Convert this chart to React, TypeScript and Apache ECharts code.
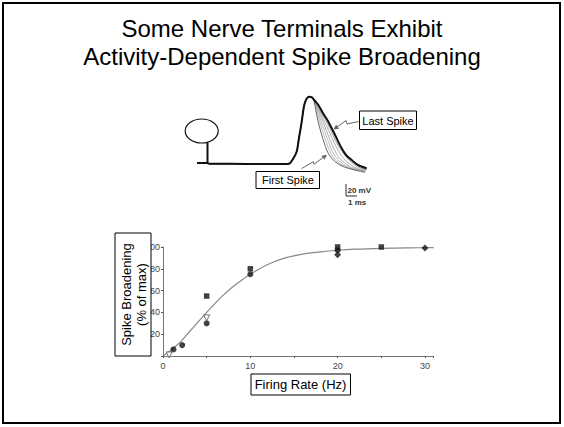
import React, { useEffect, useRef } from "react";
import * as echarts from "echarts";

const FONT = "Liberation Sans, Arial, Helvetica, sans-serif";

// Title
const titleLines = ["Some Nerve Terminals Exhibit", "Activity-Dependent Spike Broadening"];

// ---- Bottom plot: spike broadening vs firing rate ----
const xTickLabels = [0, 10, 20, 30];
const yTickLabels = [20, 40, 60, 80, 100];

// fitted curve (Hz, % of max)
const curveX = [0, 1, 2, 3, 4, 5, 6, 7, 8, 9, 10, 12, 14, 16, 18, 20, 22, 25, 28, 31];
const curveY = [0, 6, 13, 22, 31, 40, 48.5, 56.5, 63.5, 69.5, 75, 84, 90, 93.5, 95.5, 97, 98, 98.8, 99.2, 99.4];

// data points
const circleX = [1.2, 2.2, 5, 10, 20];
const circleY = [6, 10, 30, 75, 97];
const squareX = [5, 10, 20, 25];
const squareY = [55, 80, 100, 100];
const diamondX = [20, 30];
const diamondY = [93, 99];
const triangleX = [0.7, 5];
const triangleY = [1, 35];

// ---- Top panel: spike traces (time in ms, voltage relative to rest in mV) ----
const riseT = [0, 0.9, 1.1, 3, 6, 8.18, 8.45, 8.73, 9.06, 9.27, 9.52, 9.73, 9.95, 10.18, 10.45];
const riseV = [1.5, 1.5, 0.5, 0.3, 0, 0, 1, 7.5, 18.5, 39, 63.5, 87, 97.5, 101, 100];

const fallFirstT = [10.68, 10.88, 11.09, 11.34, 11.79, 12.09, 12.55, 13.09, 13.75, 14.55, 15.27];
const fallFirstV = [91.5, 73.5, 58.5, 43.5, 21, 12, 3.5, -2.3, -6.5, -9.8, -12.5];
const fall2T = [10.7, 10.93, 11.15, 11.42, 11.88, 12.2, 12.65, 13.2, 13.85, 14.6, 15.3];
const fall2V = [93, 78, 64, 49, 27, 15, 5, -1.5, -6.5, -9.5, -11.5];
const fall3T = [10.71, 10.96, 11.2, 11.5, 11.98, 12.3, 12.75, 13.3, 13.95, 14.65, 15.33];
const fall3V = [93.5, 81, 68, 54, 32, 19, 7.5, -0.5, -6, -9, -11];
const fall4T = [10.72, 10.98, 11.26, 11.6, 12.1, 12.45, 12.9, 13.45, 14.05, 14.7, 15.36];
const fall4V = [94, 83.5, 71, 57, 36, 23, 10, 1, -5, -8.5, -10];
const fall5T = [10.72, 11.0, 11.32, 11.7, 12.25, 12.65, 13.1, 13.6, 14.2, 14.75, 15.4];
const fall5V = [94, 85.5, 73.5, 60, 40, 26, 13, 3.5, -3.5, -7.5, -9];
const fall6T = [10.73, 11.02, 11.38, 11.82, 12.4, 12.85, 13.3, 13.8, 14.35, 14.85, 15.42];
const fall6V = [94.5, 87, 75, 62, 42, 27, 16, 6, -1.5, -6, -8];
const fallLastT = [10.73, 11.03, 11.45, 11.94, 12.55, 13.15, 13.55, 14.06, 14.64, 15.43];
const fallLastV = [94.5, 88.5, 76.5, 63.5, 43.5, 23.5, 13.5, 6, -1.5, -6.5];

const zip = (a: number[], b: number[]) => a.map((v, i) => [v, b[i]]);
const trace = (ft: number[], fv: number[]) => [...zip(riseT, riseV), ...zip(ft, fv)];

export default function App() {
  const ref = useRef<HTMLDivElement>(null);

  useEffect(() => {
    if (!ref.current) return;
    const chart = echarts.init(ref.current, null, { renderer: "svg" });

    const traceSeries = (data: number[][], color: string, width: number, z: number) => ({
      type: "line",
      xAxisIndex: 1,
      yAxisIndex: 1,
      data,
      symbol: "none",
      smooth: 0.3,
      lineStyle: { color, width },
      z,
      silent: true,
    });

    const box = (x: number, y: number, w: number, h: number) => ({
      type: "rect",
      shape: { x, y, width: w, height: h },
      style: { fill: "#fff", stroke: "#000", lineWidth: 1 },
      z: 100,
    });

    const label = (text: string, x: number, y: number, size: number, rotation = 0) => ({
      type: "text",
      x,
      y,
      rotation,
      style: {
        text,
        fontSize: size,
        fontFamily: FONT,
        fill: "#000",
        textAlign: "center",
        textVerticalAlign: "middle",
      },
      z: 101,
    });

    chart.setOption({
      animation: false,
      backgroundColor: "#fff",
      title: {
        text: titleLines.join("\n"),
        left: "center",
        top: 9,
        textStyle: {
          fontSize: 24,
          lineHeight: 28,
          fontWeight: "normal",
          color: "#000",
          fontFamily: FONT,
        },
      },
      grid: [
        { left: 163, top: 247, width: 270.7, height: 109 },
        { left: 197, top: 94, width: 176, height: 80 },
      ],
      xAxis: [
        {
          type: "value",
          gridIndex: 0,
          min: 0,
          max: 31,
          interval: 5,
          axisLine: { lineStyle: { color: "#777", width: 1 } },
          axisTick: { show: true, length: 2, lineStyle: { color: "#555" } },
          splitLine: { show: false },
          axisLabel: {
            margin: 5,
            fontSize: 9,
            color: "#444",
            fontFamily: FONT,
            formatter: (v: number) => (xTickLabels.includes(v) ? String(v) : ""),
          },
        },
        { type: "value", gridIndex: 1, min: 0, max: 16, show: false },
      ],
      yAxis: [
        {
          type: "value",
          gridIndex: 0,
          min: 0,
          max: 100,
          interval: 20,
          axisLine: { show: true, lineStyle: { color: "#777", width: 1 } },
          axisTick: { show: true, length: 2, lineStyle: { color: "#555" } },
          splitLine: { show: false },
          axisLabel: {
            margin: 3,
            fontSize: 9,
            color: "#444",
            fontFamily: FONT,
            formatter: (v: number) => (yTickLabels.includes(v) ? String(v) : ""),
          },
        },
        { type: "value", gridIndex: 1, min: -15, max: 105, show: false },
      ],
      series: [
        {
          type: "line",
          data: zip(curveX, curveY),
          symbol: "none",
          smooth: 0.3,
          lineStyle: { color: "#888", width: 1.2 },
          z: 2,
        },
        {
          type: "scatter",
          data: zip(circleX, circleY),
          symbol: "circle",
          symbolSize: 6,
          itemStyle: { color: "#111" },
          z: 3,
        },
        {
          type: "scatter",
          data: zip(squareX, squareY),
          symbol: "rect",
          symbolSize: 5.5,
          itemStyle: { color: "#111" },
          z: 3,
        },
        {
          type: "scatter",
          data: zip(diamondX, diamondY),
          symbol: "diamond",
          symbolSize: 7,
          itemStyle: { color: "#111" },
          z: 3,
        },
        {
          type: "scatter",
          data: zip(triangleX, triangleY),
          symbol: "triangle",
          symbolRotate: 180,
          symbolSize: 6,
          itemStyle: { color: "#fff", borderColor: "#555", borderWidth: 1 },
          z: 4,
        },
        traceSeries(trace(fall2T, fall2V), "#aaa", 0.8, 2),
        traceSeries(trace(fall3T, fall3V), "#aaa", 0.8, 2),
        traceSeries(trace(fall4T, fall4V), "#999", 0.8, 2),
        traceSeries(trace(fall5T, fall5V), "#999", 0.8, 2),
        traceSeries(trace(fall6T, fall6V), "#888", 0.8, 2),
        traceSeries(trace(fallFirstT, fallFirstV), "#666", 1, 3),
        traceSeries(trace(fallLastT, fallLastV), "#111", 2, 4),
      ],
      graphic: [
        // slide frame
        {
          type: "rect",
          shape: { x: 3, y: 3, width: 557, height: 420 },
          style: { fill: "none", stroke: "#000", lineWidth: 2 },
          z: 100,
        },
        // nerve terminal icon
        {
          type: "ellipse",
          shape: { cx: 201.7, cy: 131, rx: 16.5, ry: 12 },
          style: { fill: "none", stroke: "#111", lineWidth: 1.2 },
          z: 100,
        },
        {
          type: "line",
          shape: { x1: 207.5, y1: 143, x2: 207.5, y2: 163.5 },
          style: { stroke: "#111", lineWidth: 2 },
          z: 100,
        },
        // Last Spike label + arrow
        box(359.5, 111, 57, 18.5),
        label("Last Spike", 388, 120.5, 11),
        {
          type: "polyline",
          shape: { points: [[358.5, 121.5], [347, 124], [346, 120.5], [336, 127.8]] },
          style: { stroke: "#666", lineWidth: 1, fill: "none" },
          z: 100,
        },
        {
          type: "polygon",
          shape: { points: [[333.5, 129.6], [339, 128.7], [336.1, 124.6]] },
          style: { fill: "#666" },
          z: 100,
        },
        // First Spike label + arrow
        box(256, 171.5, 63.5, 17),
        label("First Spike", 288, 180.2, 11),
        {
          type: "polyline",
          shape: { points: [[301.7, 168.5], [313.3, 161.7], [314, 164.3], [324, 156.8]] },
          style: { stroke: "#666", lineWidth: 1, fill: "none" },
          z: 100,
        },
        {
          type: "polygon",
          shape: { points: [[327, 154.8], [324.45, 159.77], [321.49, 155.73]] },
          style: { fill: "#666" },
          z: 100,
        },
        // scale bar
        {
          type: "polyline",
          shape: { points: [[346, 184], [346, 196], [357, 196]] },
          style: { stroke: "#333", lineWidth: 1, fill: "none" },
          z: 100,
        },
        {
          type: "text",
          x: 347.5,
          y: 190,
          style: { text: "20 mV", fontSize: 8, fontFamily: FONT, fill: "#333", fontWeight: "bold", textVerticalAlign: "middle" },
          z: 100,
        },
        {
          type: "text",
          x: 348,
          y: 202.5,
          style: { text: "1 ms", fontSize: 8, fontFamily: FONT, fill: "#333", fontWeight: "bold", textVerticalAlign: "middle" },
          z: 100,
        },
        // axis title boxes
        box(115, 233, 36, 123),
        label("Spike Broadening", 126, 294.5, 13, Math.PI / 2),
        label("(% of max)", 141, 294.5, 13, Math.PI / 2),
        box(251, 374, 99.5, 21),
        label("Firing Rate (Hz)", 300.5, 384.8, 13),
      ],
    });

    return () => chart.dispose();
  }, []);

  return (
    <div
      ref={ref}
      style={{ position: "fixed", left: 0, top: 0, width: 564, height: 427, background: "#fff" }}
    />
  );
}
